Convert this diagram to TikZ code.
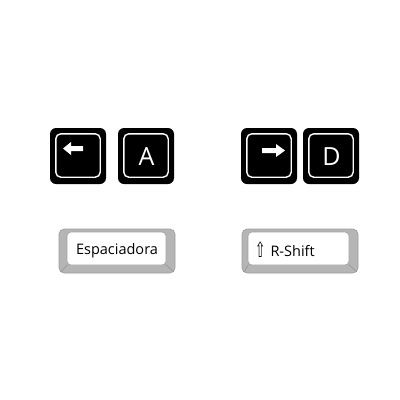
\documentclass[tikz,border=0pt]{standalone}
\usepackage{fontspec}
\setmainfont{Open Sans}
\newfontfamily\symfont{DejaVu Sans}
\begin{document}
\begin{tikzpicture}[x=1pt,y=-1pt,
  blackkey/.style={fill=black, rounded corners=6pt, minimum width=56pt, minimum height=56pt, inner sep=0pt},
  innerline/.style={draw=white, line width=1.4pt, rounded corners=5pt},
  keyletter/.style={text=white, font=\fontsize{25}{25}\selectfont, inner sep=0pt},
  arrowshape/.style={fill=white},
  capouter/.style={fill=gray!58, draw=gray!78, line width=0.6pt, rounded corners=5pt},
  capface/.style={fill=white, draw=gray!75, line width=0.6pt, rounded corners=4pt},
  bevel/.style={draw=gray!85, line width=0.6pt},
  captext/.style={font=\fontsize{14.5}{15}\selectfont, text=black, inner sep=0pt}
]
\useasboundingbox (0,0) rectangle (400,400);

% black keys
\node[blackkey] (kleft) at (78,156) {};
\node[blackkey] (ka) at (146,156) {};
\node[blackkey] (kright) at (269,156) {};
\node[blackkey] (kd) at (331,156) {};
\foreach \k in {kleft,ka,kright,kd}{
  \draw[innerline] ([shift={(6,6)}]\k.north west) rectangle ([shift={(-6,-7)}]\k.south east);
}
\node[keyletter] (ta) at (146.5,157) {A};
\node[keyletter] (td) at (331.5,157) {D};

% arrows
\fill[arrowshape] (63,148.5) -- (71,142) -- (71,146) -- (83,146) -- (83,151) -- (71,151) -- (71,155) -- cycle;
\fill[arrowshape] (285,150.5) -- (276,144) -- (276,148) -- (262,148) -- (262,153) -- (276,153) -- (276,157) -- cycle;

% light keycaps
\path[capouter] (59,229) rectangle (175,273);
\path[capface] (67,232) rectangle (166,265);
\draw[bevel] (67.5,264.5) -- (61,272);
\draw[bevel] (165.5,264.5) -- (174,272);
\node[captext] (tesp) at (117,251) {Espaciadora};

\path[capouter] (242,229) rectangle (358,273);
\path[capface] (248,232) rectangle (349,265);
\draw[bevel] (248.5,264.5) -- (244,272);
\draw[bevel] (348.5,264.5) -- (357,272);
\node[captext, anchor=west] (tshift) at (255,250) {\raisebox{-1.5pt}{\symfont\scalebox{0.85}[1.45]{⇧}}\hspace{5pt}R-Shift};
\end{tikzpicture}
\end{document}
